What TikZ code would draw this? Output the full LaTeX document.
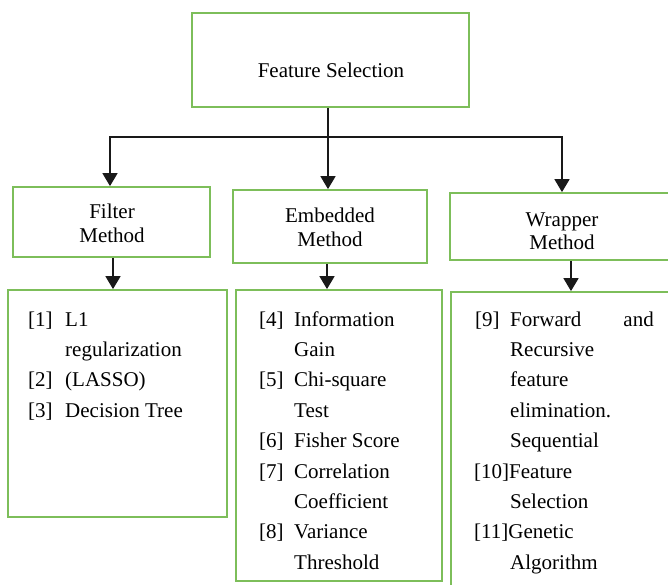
\documentclass[tikz,border=0pt]{standalone}
\usepackage{fontspec}
\setmainfont{Liberation Serif}
\usetikzlibrary{arrows.meta}
\definecolor{boxgreen}{RGB}{125,190,90}
\begin{document}
\begin{tikzpicture}[x=1pt,y=-1pt,
  box/.style={draw=boxgreen, line width=1.8pt, rectangle, inner sep=0pt},
  txt/.style={inner sep=0pt, font=\fontsize{21}{25}\selectfont},
  lt/.style={txt, anchor=base west},
  rt/.style={txt, anchor=base east},
  ct/.style={txt, anchor=base},
  conn/.style={draw=black!90, line width=1.7pt},
  arr/.style={conn, -{Triangle[width=15pt,length=13pt]}}]
\clip (0,0) rectangle (668,584);
\fill[white] (0,0) rectangle (668,584);
% boxes
\node[box, minimum width=277pt, minimum height=94pt] (fs) at (330.5,60) {};
\node[box, minimum width=197pt, minimum height=70pt] (fh) at (111.5,222) {};
\node[box, minimum width=194pt, minimum height=73pt] (eh) at (330,226.5) {};
\node[box, minimum width=240pt, minimum height=67pt] (wh) at (570,226.5) {};
\node[box, minimum width=219pt, minimum height=227pt] (fl) at (117.5,403.5) {};
\node[box, minimum width=206pt, minimum height=291pt] (el) at (339,435.5) {};
\node[box, minimum width=239pt, minimum height=308pt] (wl) at (570.5,446) {};
% connectors
\coordinate (jm) at (328,137);
\coordinate (jl) at (110,137);
\coordinate (jr) at (562,137);
\coordinate (fd) at (113,0);
\coordinate (ed) at (327,0);
\coordinate (wd) at (571,0);
\draw[conn] (fs.south -| jm) -- (jm);
\draw[conn, line cap=rect] (jl) -- (jr);
\draw[arr] (jl) -- (jl |- fh.north);
\draw[arr] (jm) -- (jm |- eh.north);
\draw[arr] (jr) -- (jr |- wh.north);
\draw[arr] (fd |- fh.south) -- (fd |- fl.north);
\draw[arr] (ed |- eh.south) -- (ed |- el.north);
\draw[arr] (wd |- wh.south) -- (wd |- wl.north);
% header texts
\node[ct] (tfs) at (331,77) {Feature Selection};
\node[ct] (tf1) at (112,218) {Filter};
\node[ct] (tf2) at (112,242) {Method};
\node[ct] (te1) at (330,222) {Embedded};
\node[ct] (te2) at (330,246) {Method};
\node[ct] (tw1) at (562,226) {Wrapper};
\node[ct] (tw2) at (562,249) {Method};
% filter list
\node[lt] (f1) at (28,326) {[1]};
\node[lt] (f1t) at (65,326) {L1};
\node[lt] (f1u) at (65,356.4) {regularization};
\node[lt] (f2) at (28,386.8) {[2]};
\node[lt] (f2t) at (65,386.8) {(LASSO)};
\node[lt] (f3) at (28,417.2) {[3]};
\node[lt] (f3t) at (65,417.2) {Decision Tree};
% embedded list
\node[lt] (e4) at (259,326) {[4]};
\node[lt] (e4t) at (294,326) {Information};
\node[lt] (e4u) at (294,356.4) {Gain};
\node[lt] (e5) at (259,386.8) {[5]};
\node[lt] (e5t) at (294,386.8) {Chi-square};
\node[lt] (e5u) at (294,417.2) {Test};
\node[lt] (e6) at (259,447.6) {[6]};
\node[lt] (e6t) at (294,447.6) {Fisher Score};
\node[lt] (e7) at (259,478) {[7]};
\node[lt] (e7t) at (294,478) {Correlation};
\node[lt] (e7u) at (294,508.4) {Coefficient};
\node[lt] (e8) at (259,538.8) {[8]};
\node[lt] (e8t) at (294,538.8) {Variance};
\node[lt] (e8u) at (294,569.2) {Threshold};
% wrapper list
\node[lt] (w9) at (475,326) {[9]};
\node[lt] (w9t) at (510,326) {Forward};
\node[rt] (w9a) at (654,326) {and};
\node[lt] (w9b) at (510,356.4) {Recursive};
\node[lt] (w9c) at (510,386.8) {feature};
\node[lt] (w9d) at (510,417.2) {elimination.};
\node[lt] (w9e) at (510,447.6) {Sequential};
\node[lt] (w10) at (474,478) {[10]Feature};
\node[lt] (w10b) at (510,508.4) {Selection};
\node[lt] (w11) at (474,538.8) {[11]Genetic};
\node[lt] (w11b) at (510,569.2) {Algorithm};
\end{tikzpicture}
\end{document}
